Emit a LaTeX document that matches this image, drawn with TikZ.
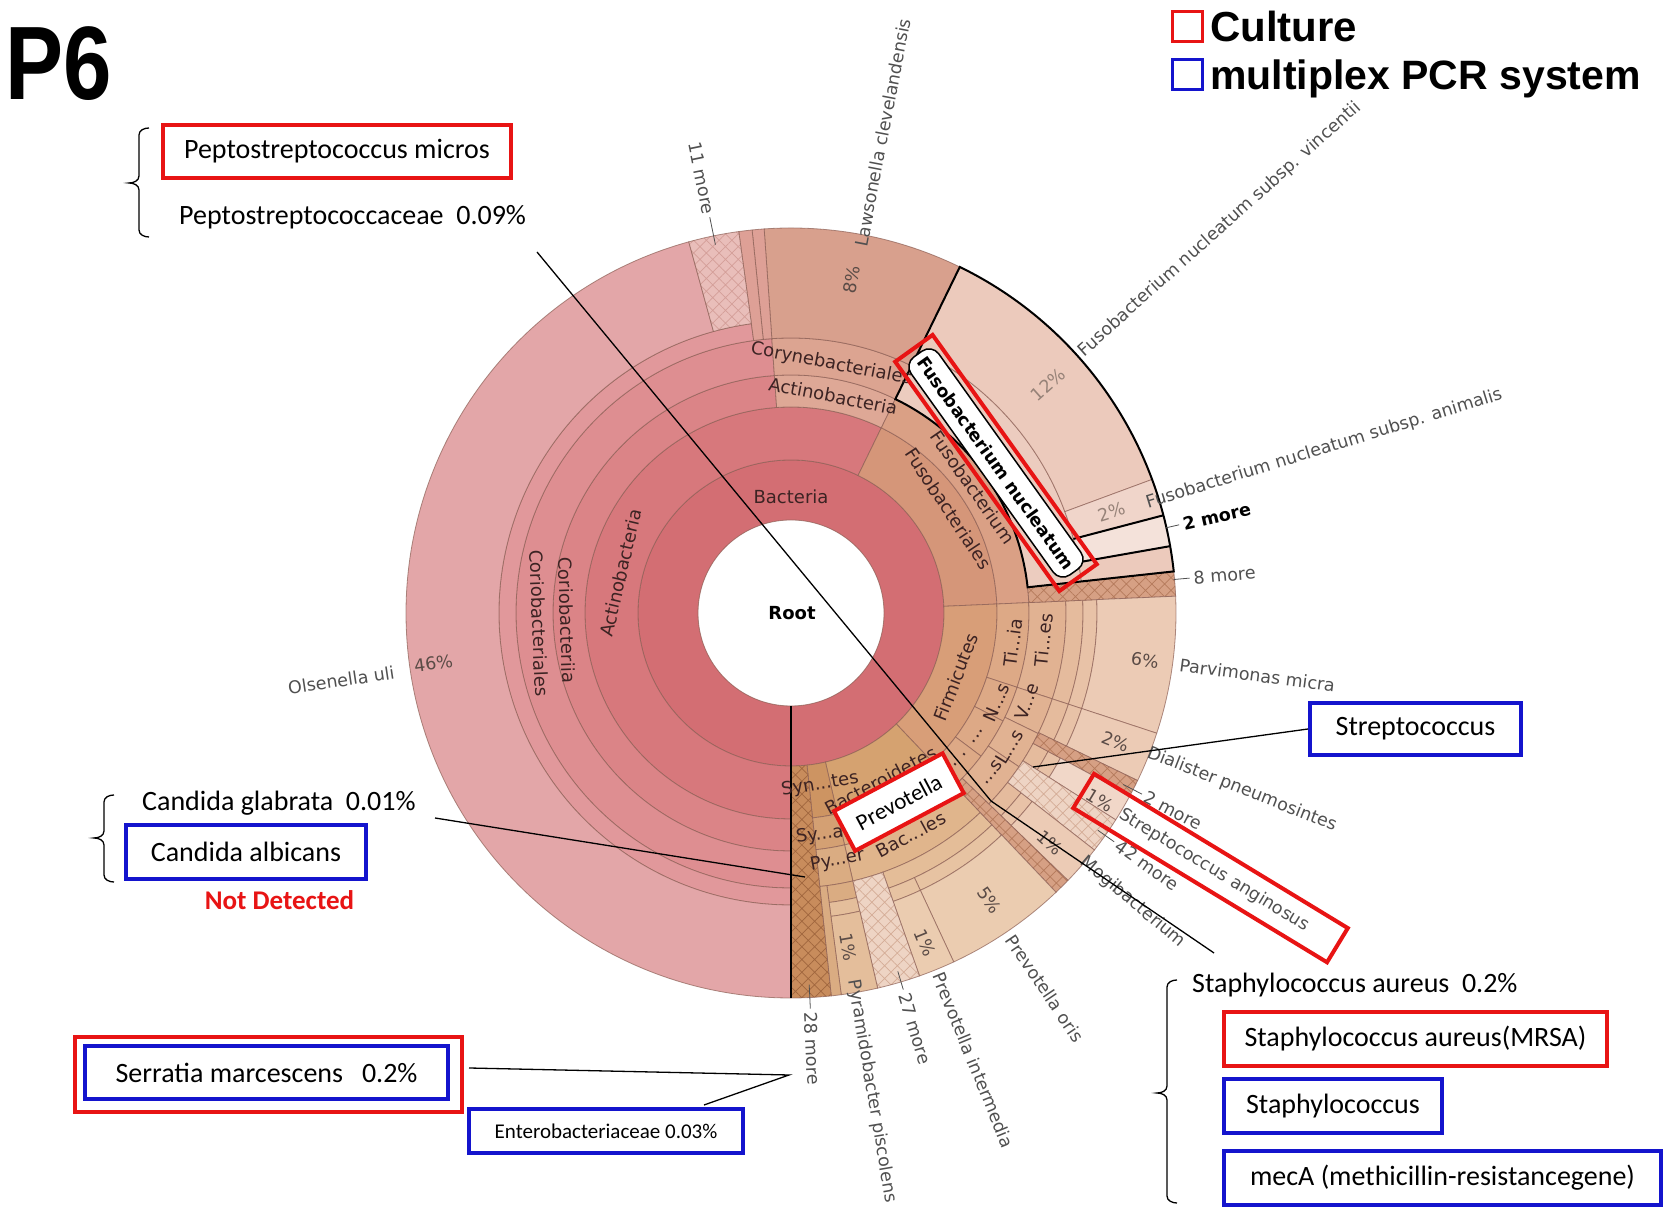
\documentclass[tikz,border=0pt]{standalone}
\usepackage{fontspec}
\setmainfont{DejaVu Sans}
\newfontfamily\krfont{DejaVu Sans}
\newfontfamily\boxfont{Carlito}
\newfontfamily\arfont{Liberation Sans}
\usetikzlibrary{patterns.meta}
\definecolor{bact}{RGB}{211,110,115}
\definecolor{actP}{RGB}{215,120,124}
\definecolor{corC}{RGB}{219,132,135}
\definecolor{corO}{RGB}{222,142,145}
\definecolor{corF}{RGB}{225,152,155}
\definecolor{olsS}{RGB}{227,166,168}
\definecolor{corH}{RGB}{233,190,186}
\definecolor{corHl}{RGB}{212,158,152}
\definecolor{corT}{RGB}{222,160,150}
\definecolor{cynC}{RGB}{222,168,150}
\definecolor{cynO}{RGB}{220,164,145}
\definecolor{lawS}{RGB}{216,160,141}
\definecolor{fusP}{RGB}{213,150,121}
\definecolor{fusC}{RGB}{218,160,133}
\definecolor{fnuc}{RGB}{236,204,191}
\definecolor{vinS}{RGB}{236,202,188}
\definecolor{aniS}{RGB}{240,213,202}
\definecolor{twoS}{RGB}{244,226,218}
\definecolor{hatD}{RGB}{214,160,132}
\definecolor{hatDl}{RGB}{180,122,92}
\definecolor{hatL}{RGB}{238,212,196}
\definecolor{hatLl}{RGB}{212,172,150}
\definecolor{firP}{RGB}{216,158,120}
\definecolor{firC}{RGB}{221,169,134}
\definecolor{firO}{RGB}{225,178,146}
\definecolor{firF}{RGB}{229,187,157}
\definecolor{firG}{RGB}{232,194,167}
\definecolor{firS}{RGB}{236,203,181}
\definecolor{firL}{RGB}{241,215,200}
\definecolor{bacP}{RGB}{213,162,112}
\definecolor{bacC}{RGB}{219,172,126}
\definecolor{bacO}{RGB}{224,181,140}
\definecolor{bacF}{RGB}{228,189,152}
\definecolor{bacG}{RGB}{231,195,162}
\definecolor{bacS}{RGB}{235,204,176}
\definecolor{synP}{RGB}{205,148,98}
\definecolor{synC}{RGB}{212,160,115}
\definecolor{synO}{RGB}{218,172,130}
\definecolor{synS}{RGB}{228,190,155}
\definecolor{hh}{RGB}{200,140,92}
\definecolor{hhl}{RGB}{160,102,62}
\definecolor{segl}{RGB}{140,95,85}
\definecolor{lblg}{RGB}{80,80,80}
\definecolor{ilbl}{RGB}{60,35,35}
\definecolor{pctc}{RGB}{90,75,70}
\definecolor{pctl}{RGB}{150,130,120}
\definecolor{bred}{RGB}{232,20,20}
\definecolor{bblue}{RGB}{20,20,205}
\newcommand{\kseg}[5]{\path[seg,fill=#5] (#1:#3) arc[start angle=#1,end angle=#2,radius=#3] -- (#2:#4) arc[start angle=#2,end angle=#1,radius=#4] -- cycle;}
\newcommand{\khseg}[6]{%
\path[fill=#5] (#1:#3) arc[start angle=#1,end angle=#2,radius=#3] -- (#2:#4) arc[start angle=#2,end angle=#1,radius=#4] -- cycle;
\path[pattern={Hatch[angle=45,distance=9pt,line width=0.7pt]},pattern color=#6] (#1:#3) arc[start angle=#1,end angle=#2,radius=#3] -- (#2:#4) arc[start angle=#2,end angle=#1,radius=#4] -- cycle;
\path[seg] (#1:#3) arc[start angle=#1,end angle=#2,radius=#3] -- (#2:#4) arc[start angle=#2,end angle=#1,radius=#4] -- cycle;}
\newcommand{\olab}[4]{\node[olab,rotate=#2,anchor=west] (#1) at (#2:#3) {#4};}
\newcommand{\pctlab}[5]{\node[pctn,text=#5,rotate=#2] (#1) at (#2:#3) {#4};}
\newcommand{\ilab}[5]{\node[ilab,rotate=#4] (#1) at (#2:#3) {#5};}
\newcommand{\kmore}[6]{\draw[tickl] (#2:#3) -- (#2:#4); \node[olab,rotate=#2,anchor=west] (#1) at (#2:#5) {#6};}
\newcommand{\kbrace}[4]{\draw[brk] ({#1+10},#2) to[out=180,in=90] (#1,{#2-7}) -- (#1,{#4+7}) to[out=-90,in=0] ({#1-10},#4) to[out=0,in=90] (#1,{#4-7}) -- (#1,{#3+7}) to[out=-90,in=180] ({#1+10},#3);}
\begin{document}
\begin{tikzpicture}[x=1pt,y=1pt,
 seg/.style={draw=segl,line width=0.8pt,draw opacity=0.7},
 olab/.style={font=\krfont\fontsize{17.5}{20}\selectfont,text=lblg,inner sep=0pt},
 ilab/.style={font=\krfont\fontsize{18}{20}\selectfont,text=ilbl,inner sep=0pt},
 pctn/.style={font=\krfont\fontsize{17.5}{20}\selectfont,inner sep=0pt},
 tickl/.style={draw=lblg,line width=0.8pt},
 btxt/.style={font=\boxfont\fontsize{28}{32}\selectfont,inner sep=0pt},
 rbox/.style={draw=bred,line width=4pt,inner sep=0pt,font=\boxfont\fontsize{28}{32}\selectfont},
 bbox/.style={draw=bblue,line width=4pt,inner sep=0pt,font=\boxfont\fontsize{28}{32}\selectfont},
 conn/.style={draw=black,line width=1.3pt},
 brk/.style={draw=black,line width=1.3pt}]
\useasboundingbox (0,0) rectangle (1669,1214);
\fill[white] (0,0) rectangle (1669,1214);

\begin{scope}[shift={(791,601)}]
% Bacteria ring
\path[seg,fill=bact,even odd rule] (0,0) circle[radius=153] (0,0) circle[radius=93];
% phylum ring
\kseg{64}{270}{153}{206}{actP}
\kseg{2.5}{64}{153}{206}{fusP}
\kseg{-46.5}{2.5}{153}{206}{firP}
\kseg{-77}{-46.5}{153}{206}{bacP}
\kseg{-84}{-77}{153}{206}{synP}
% class ring
\kseg{94}{270}{206}{238}{corC}
\kseg{64}{94}{206}{238}{cynC}
\kseg{2.5}{64}{206}{238}{fusC}
\kseg{-18.2}{2.5}{206}{238}{firC}
\kseg{-27}{-18.2}{206}{238}{firC}
\kseg{-37}{-27}{206}{238}{firC}
\kseg{-46.5}{-37}{206}{238}{firC}
\kseg{-77}{-46.5}{206}{238}{bacC}
\kseg{-84}{-77}{206}{238}{synC}
% order ring
\kseg{94}{270}{238}{275}{corO}
\kseg{64}{94}{238}{275}{cynO}
\kseg{-18.2}{2.5}{238}{275}{firO}
\kseg{-26}{-18.2}{238}{275}{firO}
\kseg{-34}{-26}{238}{275}{firO}
\kseg{-44}{-34}{238}{275}{firO}
\kseg{-77}{-46.5}{238}{275}{bacO}
\kseg{-84}{-77}{238}{275}{synO}
% family ring
\kseg{97.8}{270}{275}{292}{corF}
\kseg{-18.2}{2.5}{275}{292}{firF}
\kseg{-25.8}{-18.2}{275}{292}{firF}
\kseg{-32.5}{-28.3}{275}{292}{firF}
\kseg{-44}{-38}{275}{292}{firF}
\kseg{-70.5}{-46.5}{275}{292}{bacF}
\kseg{-82.5}{-77}{275}{292}{synO}
% genus ring
\kseg{-18.2}{2.5}{292}{306}{firG}
\kseg{-25.8}{-18.2}{292}{306}{firG}
\kseg{-32.5}{-28.3}{292}{306}{firG}
\kseg{-44}{-38}{292}{306}{firG}
\kseg{-65}{-46.5}{292}{306}{bacG}
\kseg{-70.5}{-65}{292}{306}{bacG}
\kseg{-82.5}{-77}{292}{306}{synS}
% Actinobacteria outer
\kseg{105.4}{270}{292}{385}{olsS}
\kseg{64}{94}{275}{385}{lawS}
\kseg{94}{95.8}{275}{385}{corT}
\kseg{95.8}{97.8}{275}{385}{corT}
\khseg{97.8}{105.4}{292}{385}{corH}{corHl}
% Fusobacteria outer
\kseg{6.2}{64}{238}{292}{fnuc}
\kseg{20.3}{64}{292}{385}{vinS}
\kseg{14.7}{20.3}{292}{385}{aniS}
\kseg{10}{14.7}{292}{385}{twoS}
\kseg{6.2}{10}{292}{385}{vinS}
\khseg{2.5}{6.2}{238}{385}{hatD}{hatDl}
% Firmicutes outer
\kseg{-18.2}{2.5}{306}{385}{firS}
\kseg{-25.8}{-18.2}{306}{385}{firS}
\khseg{-28.3}{-25.8}{275}{385}{hatD}{hatDl}
\kseg{-32.5}{-28.3}{306}{385}{firL}
\khseg{-38}{-32.5}{275}{385}{hatL}{hatLl}
\kseg{-44}{-38}{306}{385}{firS}
\khseg{-46.5}{-44}{238}{385}{hatD}{hatDl}
% Bacteroidetes / Synergistetes outer
\kseg{-65}{-46.5}{306}{385}{bacS}
\kseg{-70.5}{-65}{306}{385}{bacS}
\khseg{-77}{-70.5}{275}{385}{hatL}{hatLl}
\kseg{-82.5}{-77}{306}{385}{synS}
\kseg{-84}{-82.5}{275}{385}{synO}
\khseg{-90}{-84}{153}{385}{hh}{hhl}
% start line
\draw[black,line width=1.5pt] (270:93) -- (270:385);
% F. nucleatum outline
\draw[black,line width=2pt] (64:385) arc[start angle=64,end angle=6.2,radius=385] -- (6.2:238) arc[start angle=6.2,end angle=64,radius=238] -- cycle;
\draw[black,line width=2pt] (14.7:292) -- (14.7:385);
\draw[black,line width=2pt] (10:292) -- (10:385);

% inner labels
\node[font=\krfont\bfseries\fontsize{18}{20}\selectfont,inner sep=0pt] (root) at (1,0) {Root};
\node[ilab] (bac) at (0,116) {Bacteria};
\ilab{actp}{166.8}{175}{76.8}{Actinobacteria}
\ilab{corc}{181.8}{224}{-88.2}{Coriobacteriia}
\ilab{coro}{182.3}{252}{-87.7}{Coriobacteriales}
\ilab{actc}{79}{221}{-11}{Actinobacteria}
\ilab{cyno}{80.8}{252}{-11}{Corynebacteriales}
\ilab{fuso}{33.5}{189}{-56.5}{Fusobacteriales}
\ilab{fusg}{34.7}{221}{-55.3}{Fusobacterium}
\ilab{firm}{-21.3}{177}{68.7}{Firmicutes}
\ilab{tia}{-7.6}{224}{82.4}{Ti...ia}
\ilab{tie}{-6.1}{254}{83.9}{Ti...es}
\ilab{nes}{-23.5}{224}{66.5}{N...s}
\ilab{vee}{-20.6}{252}{69.4}{V...e}
\ilab{dd1}{-33.5}{224}{56.5}{...}
\ilab{dd2}{-41}{224}{49}{. .}
\ilab{lls}{-31.5}{256}{58.5}{L...s}
\ilab{dds}{-38.5}{256}{51.5}{...s}
\ilab{syn}{-80.4}{174}{9.6}{Syn...tes}
\ilab{bdt}{-61.8}{190}{28.2}{Bacteroidetes}
\ilab{sya}{-82.6}{224}{7.4}{Sy...a}
\ilab{pyr}{-79.4}{252}{10.6}{Py...er}
\ilab{bcl}{-61.6}{252}{28.4}{Bac...les}

% percentages
\node[pctn,text=pctc,rotate=8] (p46) at (188:361) {46\%};
\pctlab{p8}{79.6}{339}{8\%}{pctc}
\pctlab{p12}{41.6}{344}{12\%}{pctl}
\pctlab{p2a}{17.5}{336}{2\%}{pctl}
\pctlab{p6}{-7.6}{357}{6\%}{pctc}
\pctlab{p2d}{-21.7}{349}{2\%}{pctc}
\pctlab{p1s}{-31.2}{361}{1\%}{pctc}
\pctlab{p1m}{-41.6}{346}{1\%}{pctc}
\pctlab{p5}{-55.3}{349}{5\%}{pctc}
\pctlab{p1i}{-67.9}{356}{1\%}{pctc}
\pctlab{p1p}{-80.3}{339}{1\%}{pctc}

% outer labels
\olab{law}{79.2}{373}{Lawsonella clevelandensis}
\olab{vin}{41.8}{389}{Fusobacterium nucleatum subsp. vincentii}
\olab{ani}{17.1}{372}{Fusobacterium nucleatum subsp. animalis}
\draw[tickl] (12.8:384) -- (12.8:398);
\node[olab,text=black,font=\krfont\bfseries\fontsize{17.5}{20}\selectfont,rotate=12.8,anchor=west] (two) at (12.8:402) {2 more};
\kmore{m8}{5.0}{384}{400}{404}{8 more}
\olab{parv}{-7.6}{392}{Parvimonas micra}
\olab{dial}{-21.4}{383}{Dialister pneumosintes}
\kmore{m2}{-27.3}{374}{395}{399}{2 more}
\olab{sang}{-31.3}{386}{Streptococcus anginosus}
\kmore{m42}{-35.3}{376}{396}{400}{42 more}
\olab{mogi}{-40.2}{382}{Mogibacterium}
\olab{pori}{-55.9}{391}{Prevotella oris}
\olab{pint}{-67.8}{389}{Prevotella intermedia}
\kmore{m27}{-73.4}{374}{393}{397}{27 more}
\olab{pyra}{-80.4}{372}{Pyramidobacter piscolens}
\kmore{m28}{-87.2}{372}{396}{399}{28 more}
\draw[tickl] (101.6:376) -- (101.6:404);
\node[olab,rotate=-78.4,anchor=east] (m11) at (101.6:407) {11 more};
\node[olab,rotate=8.5,anchor=east] (ols) at (188.5:401) {Olsenella uli};

% highlighted boxes inside chart
\node[draw=black,line width=1.5pt,fill=white,rounded corners=12pt,rotate=-54.4,minimum width=268,minimum height=34,inner sep=0pt,font=\krfont\bfseries\fontsize{17.5}{20}\selectfont] (fnl) at (36.2:254) {Fusobacterium nucleatum};
\node[draw=bred,line width=4pt,rotate=-54.4,minimum width=282,minimum height=46,inner sep=0pt] (fnr) at (36.2:254) {};
\node[draw=bred,line width=4pt,fill=white,rotate=28,minimum width=123,minimum height=45,inner sep=0pt,font=\boxfont\fontsize{23}{26}\selectfont] (prev) at (-60.3:217.7) {Prevotella};
\node[draw=bred,line width=4pt,rotate=-31.3,minimum width=297,minimum height=40,inner sep=0pt] (sabox) at (-31.3:491) {};
\end{scope}

% title and legend
\node[anchor=base west,inner sep=0pt,font=\arfont\bfseries\fontsize{87}{90}\selectfont] (p6t) at (5,1114) {\scalebox{1}[1.2]{P6}};
\node[draw=bred,line width=3pt,minimum size=30,inner sep=0pt] (legr) at (1187,1187) {};
\node[anchor=base west,inner sep=0pt,font=\arfont\bfseries\fontsize{42}{46}\selectfont] (legc) at (1210,1172) {Culture};
\node[draw=bblue,line width=3pt,minimum size=30,inner sep=0pt] (legb) at (1187,1139) {};
\node[anchor=base west,inner sep=0pt,font=\arfont\bfseries\fontsize{41}{46}\selectfont] (legm) at (1210,1124) {multiplex PCR system};

% hub of the two long connectors
\coordinate (hub) at (991,413);

% Peptostreptococcus
\node[rbox,minimum width=348,minimum height=53] (pm) at (337,1062.5) {Peptostreptococcus micros};
\node[btxt,anchor=west] (pf) at (179,997) {Peptostreptococcaceae\ \ 0.09\%};
\kbrace{139}{1086}{977}{1031}
\coordinate (pfl) at (537,962);
\draw[conn] (pfl) -- (hub);

% Candida
\node[btxt,anchor=west] (cg) at (142,411) {Candida glabrata\ \ 0.01\%};
\node[bbox,minimum width=240,minimum height=54] (ca) at (246,362) {Candida albicans};
\node[font=\boxfont\bfseries\fontsize{27}{30}\selectfont,text=bred,inner sep=0pt] (nd) at (279.5,314) {Not Detected};
\kbrace{104}{419}{332}{376}
\coordinate (cgl) at (435,396);
\coordinate (cge) at (805,337);
\draw[conn] (cgl) -- (cge);

% Serratia
\node[draw=bred,line width=4pt,minimum width=387,minimum height=75,inner sep=0pt] (smr) at (268.5,139.5) {};
\node[bbox,minimum width=363,minimum height=53] (sm) at (266.5,141.5) {Serratia marcescens\ \ \ 0.2\%};
\node[bbox,minimum width=274,minimum height=44,font=\boxfont\fontsize{21}{24}\selectfont] (en) at (606,83) {Enterobacteriaceae 0.03\%};
\coordinate (m28p) at (789,139);
\coordinate (sml) at (469,146);
\coordinate (enl) at (704,109);
\draw[conn] (sml) -- (m28p) -- (enl);

% Streptococcus
\node[bbox,minimum width=211,minimum height=52] (strep) at (1415.5,485) {Streptococcus};
\coordinate (stre) at (1033,447);
\draw[conn] (strep.west) -- (stre);

% Staphylococcus
\node[btxt,anchor=west] (sa) at (1192,229) {Staphylococcus aureus\ \ 0.2\%};
\node[rbox,minimum width=383,minimum height=54] (mrsa) at (1415.5,175) {Staphylococcus aureus(MRSA)};
\node[bbox,minimum width=218,minimum height=54] (stph) at (1333,108) {Staphylococcus};
\node[bbox,minimum width=437,minimum height=54] (meca) at (1442.5,36) {mecA (methicillin-resistancegene)};
\kbrace{1167}{234}{11}{121}
\coordinate (sal) at (1214,261);
\draw[conn] (hub) -- (sal);
\end{tikzpicture}
\end{document}
